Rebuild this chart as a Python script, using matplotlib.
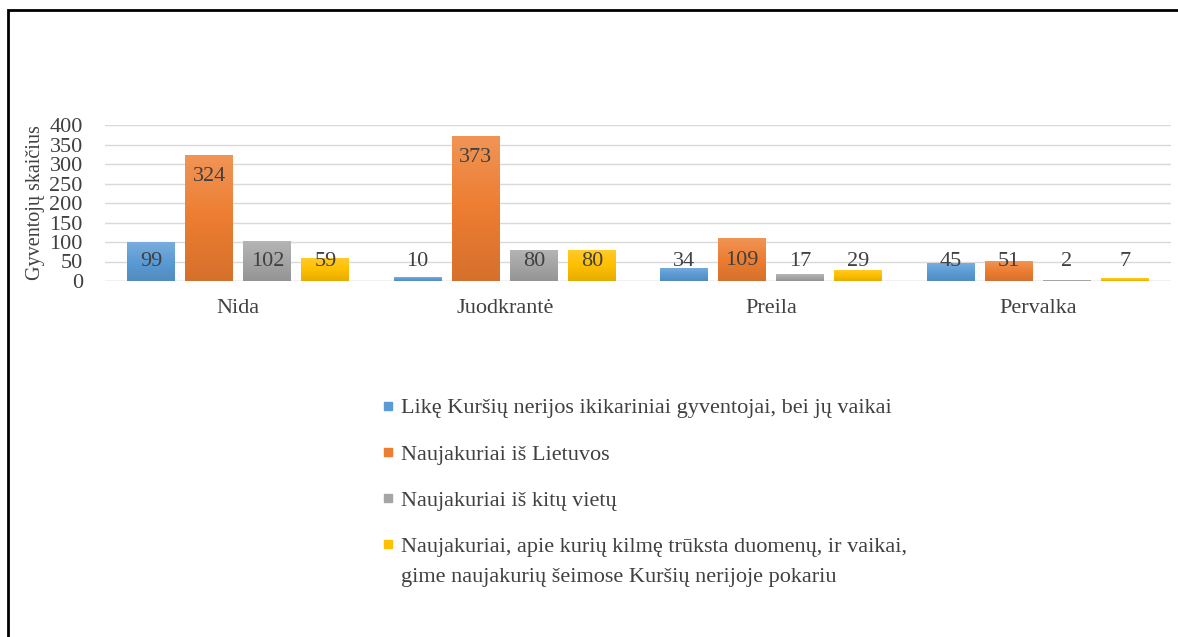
import matplotlib
matplotlib.use("Agg")
import matplotlib.pyplot as plt
import numpy as np
from matplotlib.colors import LinearSegmentedColormap, to_rgb
from matplotlib.patches import Rectangle
from matplotlib.lines import Line2D
from matplotlib.text import Annotation

categories = ["Nida", "Juodkrantė", "Preila", "Pervalka"]
series_names = [
    "Likę Kuršių nerijos ikikariniai gyventojai, bei jų vaikai",
    "Naujakuriai iš Lietuvos",
    "Naujakuriai iš kitų vietų",
    "Naujakuriai, apie kurių kilmę trūksta duomenų, ir vaikai,",
]
last_name_cont = "gime naujakurių šeimose Kuršių nerijoje pokariu"
likę = [99, 10, 34, 45]
lietuvos = [324, 373, 109, 51]
kitų = [102, 80, 17, 2]
trūksta = [59, 80, 29, 7]
series_values = [likę, lietuvos, kitų, trūksta]
colors = ["#5B9BD5", "#ED7D31", "#A5A5A5", "#FFC000"]
yticks = [0, 50, 100, 150, 200, 250, 300, 350, 400]
ylabel = "Gyventojų skaičius"

plt.rcParams["font.family"] = ["Liberation Serif", "DejaVu Serif"]
text_col = "#404040"
FS = 16

fig = plt.figure(figsize=(11.78, 6.37), dpi=100)
ax = fig.add_axes([105/1178, 1-281/637, (1171-105)/1178, (281-125)/637])

x = np.arange(len(categories))
width = 0.18
step = 0.218
for i, (vals, col) in enumerate(zip(series_values, colors)):
    offs = (i - 1.5) * step
    bars = ax.bar(x + offs, vals, width, color=col, zorder=3)
    base = np.array(to_rgb(col))
    light = base + (1 - base) * 0.18
    dark = base * 0.9
    cmap = LinearSegmentedColormap.from_list("g", [dark, base, light])
    grad = np.linspace(0, 1, 64).reshape(-1, 1)
    for b, v in zip(bars, vals):
        bx, by = b.get_x(), b.get_y()
        im = ax.imshow(grad, cmap=cmap, origin="lower", aspect="auto",
                       extent=[bx, bx + b.get_width(), by, by + b.get_height()], zorder=3.5)
        im.set_clip_path(b)
        ax.text(bx + b.get_width()/2, max(v - 57, 51), str(v), ha="center", va="center",
                fontsize=FS, color=text_col, zorder=5)

ax.set_xlim(-0.5, len(categories) - 0.5)
ax.set_ylim(0, 400)
ax.set_yticks(yticks)
ax.set_yticklabels([str(t) for t in yticks], fontsize=FS, color=text_col)
ax.set_xticks(x)
ax.set_xticklabels(categories, fontsize=FS, color=text_col)
ax.tick_params(axis="y", length=0, pad=16)
ax.tick_params(axis="x", length=0, pad=13)
ax.grid(axis="y", color="#D9D9D9", linewidth=1, zorder=0)
for s in ax.spines.values():
    s.set_visible(False)
ax.axhline(0, color="#D9D9D9", linewidth=1, zorder=2)
ax.set_ylabel(ylabel, fontsize=14.5, color=text_col)
ax.yaxis.set_label_coords(-0.056, 0.5)

handles = [Line2D([], [], marker="s", linestyle="none", markersize=6,
                  markerfacecolor=c, markeredgecolor=c) for c in colors]
leg = fig.legend(handles, series_names, loc="upper left", bbox_to_anchor=(372/1178, 1-389/637),
                 frameon=False, fontsize=FS, handlelength=0.6, handletextpad=0.3,
                 labelspacing=1.15, borderaxespad=0)
for t in leg.get_texts():
    t.set_color(text_col)
fig.canvas.draw()
last = leg.get_texts()[-1]
fig.add_artist(Annotation(last_name_cont, xy=(0, 0), xycoords=last,
                          xytext=(0, -8), textcoords="offset points",
                          ha="left", va="top", fontsize=FS, color=text_col))

# outer frame (left and top edges visible)
fig.add_artist(Rectangle((8/1178, -0.05), 1.2, 1 - 10/637 + 0.05, transform=fig.transFigure,
                         fill=False, edgecolor="black", linewidth=2))

fig.savefig("out.png", dpi=100)
